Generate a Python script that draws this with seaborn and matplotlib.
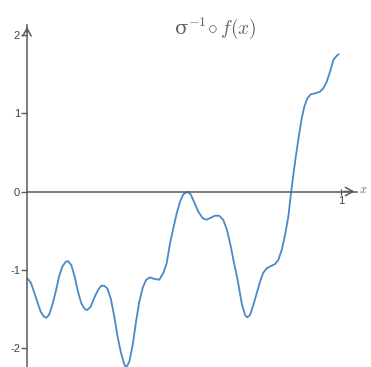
import numpy as np
import matplotlib
matplotlib.use("Agg")
import matplotlib.pyplot as plt
import seaborn as sns

# curve
xs = [0.0010, 0.0118, 0.0223, 0.0328, 0.0436, 0.0541, 0.0615, 0.0701, 0.0806, 0.0914,
      0.1019, 0.1124, 0.1232, 0.1306, 0.1411, 0.1519, 0.1624, 0.1729, 0.1838, 0.1920,
      0.2029, 0.2134, 0.2261, 0.2366, 0.2452, 0.2557, 0.2666, 0.2771, 0.2876, 0.2984,
      0.3089, 0.3153, 0.3258, 0.3366, 0.3471, 0.3576, 0.3685, 0.3790, 0.3917, 0.4054,
      0.4213, 0.4341, 0.4449, 0.4554, 0.4659, 0.4768, 0.4873, 0.4978, 0.5105, 0.5213,
      0.5318, 0.5455, 0.5596, 0.5723, 0.5850, 0.5987, 0.6124, 0.6252, 0.6360, 0.6487,
      0.6592, 0.6697, 0.6838, 0.6943, 0.7016, 0.7102, 0.7207, 0.7315, 0.7420, 0.7525,
      0.7634, 0.7771, 0.7898, 0.8003, 0.8111, 0.8217, 0.8322, 0.8408, 0.8481, 0.8567,
      0.8662, 0.8748, 0.8831, 0.8927, 0.9035, 0.9172, 0.9331, 0.9436, 0.9545, 0.9650,
      0.9755, 0.9863, 0.9927]
ys = [-1.109, -1.160, -1.280, -1.408, -1.535, -1.599, -1.612, -1.577, -1.450, -1.280,
      -1.088, -0.960, -0.897, -0.888, -0.939, -1.088, -1.280, -1.428, -1.501, -1.513,
      -1.471, -1.364, -1.258, -1.203, -1.203, -1.236, -1.364, -1.577, -1.833, -2.046,
      -2.194, -2.254, -2.174, -1.960, -1.663, -1.407, -1.229, -1.130, -1.096, -1.117,
      -1.126, -1.041, -0.913, -0.662, -0.470, -0.278, -0.130, -0.036, -0.003, -0.036,
      -0.130, -0.258, -0.342, -0.360, -0.335, -0.309, -0.309, -0.364, -0.479, -0.696,
      -0.913, -1.105, -1.428, -1.577, -1.607, -1.577, -1.450, -1.300, -1.152, -1.037,
      -0.981, -0.951, -0.926, -0.875, -0.747, -0.556, -0.322, -0.019, 0.211, 0.466,
      0.721, 0.935, 1.083, 1.190, 1.241, 1.254, 1.275, 1.318, 1.402, 1.530,
      1.679, 1.734, 1.752]
y_ticks = [-2, -1, 0, 1, 2]
x_ticks = [1]

sns.set_style("white")
plt.rcParams['font.family'] = ['Liberation Sans', 'DejaVu Sans']
plt.rcParams['mathtext.fontset'] = 'cm'

axis_col = '#5a5a5a'
fig = plt.figure(figsize=(3.71, 3.67), dpi=100)
ax = fig.add_axes([0, 0, 1, 1])

sns.lineplot(x=xs, y=ys, sort=False, estimator=None, color='#4a89c8',
             linewidth=1.3, solid_joinstyle='round', ax=ax)

ax.set_xlim(-0.086, 1.0955)
ax.set_ylim(-2.241, 2.446)

# axes through the origin
for s in ['top', 'right']:
    ax.spines[s].set_visible(False)
ax.spines['left'].set_position(('data', 0))
ax.spines['bottom'].set_position(('data', 0))
ax.spines['left'].set_bounds(-2.3, 2.13)
ax.spines['bottom'].set_bounds(0, 1.05)
for s in ['left', 'bottom']:
    ax.spines[s].set_color(axis_col)
    ax.spines[s].set_linewidth(1.1)

ax.set_yticks(y_ticks)
ax.set_yticklabels([str(t) for t in y_ticks])
ax.set_xticks(x_ticks)
ax.set_xticklabels([str(t) for t in x_ticks])
ax.tick_params(axis='y', direction='out', length=4, width=1, color=axis_col,
               labelsize=8, labelcolor='#444444', pad=1, left=True)
ax.tick_params(axis='x', direction='inout', length=5, width=1, color=axis_col,
               labelsize=8, labelcolor='#444444', pad=1, bottom=True)

arrow = dict(arrowstyle='->,head_length=0.55,head_width=0.3', color=axis_col, lw=1.1)
ax.annotate('', xy=(1.052, 0), xytext=(1.0, 0), arrowprops=arrow)
ax.annotate('', xy=(0, 2.14), xytext=(0, 2.0), arrowprops=arrow)

ax.text(1.058, 0.02, r'$x$', color='#666666', fontsize=9, ha='left', va='center')
ax.text(0.6, 2.09, r'σ$^{-1}\!\circ f(x)$', color='#666666', fontsize=14,
        ha='center', va='center', family=['DejaVu Serif'])

fig.savefig('out.png', dpi=100)
